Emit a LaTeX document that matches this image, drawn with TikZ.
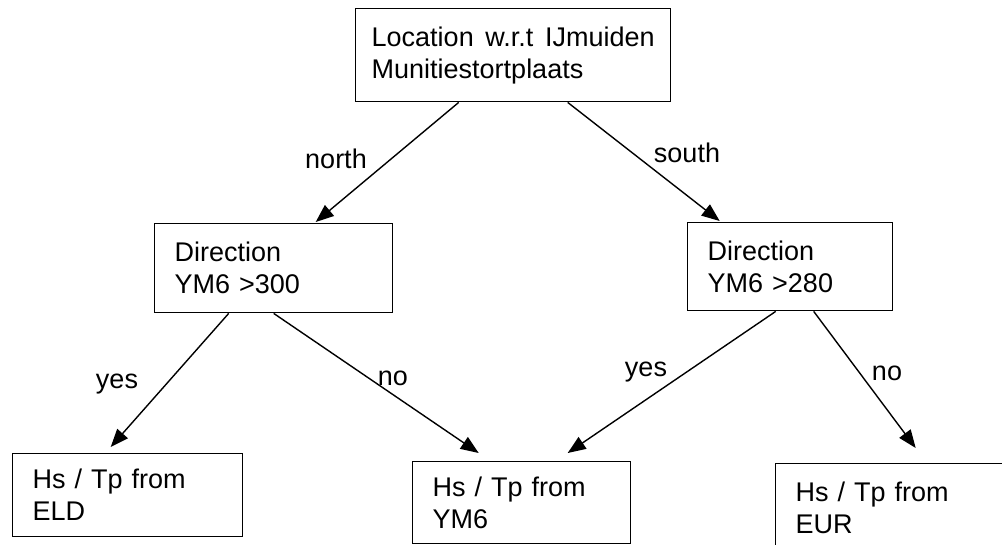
\documentclass[tikz,border=0pt]{standalone}
\usepackage{fontspec}
\setmainfont{Liberation Sans}
\usetikzlibrary{arrows.meta}

\begin{document}
\begin{tikzpicture}[x=1pt, y=-1pt,
  box/.style={draw, line width=1.4pt, inner xsep=20pt, inner ysep=0pt, align=left, anchor=north west},
  txt/.style={font=\fontsize{27}{32}\selectfont},
  arr/.style={line width=1.4pt, -{Triangle[length=18pt, width=14pt]}},
  lbl/.style={txt, anchor=base, inner sep=0pt}]
\useasboundingbox (0,0) rectangle (1002,544);
\node[box, txt, inner xsep=16pt, text width=283pt, minimum height=93pt] (top) at (355,8)
  {\hbox to \linewidth{Location\hfill w.r.t\hfill IJmuiden}\\Munitiestortplaats};
\node[box, txt, text width=198pt, minimum height=89pt] (dirN) at (154,223) {Direction\\YM6 >300};
\node[box, txt, text width=165pt, minimum height=88pt] (dirS) at (687,222) {Direction\\YM6 >280};
\node[box, txt, text width=190pt, minimum height=83pt] (eld) at (12,453) {Hs / Tp from\\ELD};
\node[box, txt, text width=178pt, minimum height=82pt] (ym6) at (412,461) {Hs / Tp from\\YM6};
\node[box, txt, text width=200pt, minimum height=88pt] (eur) at (775,463) {Hs / Tp from\\EUR};

\draw[arr] ([xshift=-54.5pt]top.south) -- ([xshift=42pt, yshift=1pt]dirN.north);
\draw[arr] ([xshift=54.5pt]top.south) -- ([xshift=-70.5pt, yshift=1pt]dirS.north);
\draw[arr] ([xshift=-45pt]dirN.south) -- ([xshift=-17pt, yshift=6pt]eld.north);
\draw[arr] (dirN.south) -- ([xshift=-43pt, yshift=8pt]ym6.north);
\draw[arr] ([xshift=-14.5pt]dirS.south) -- ([xshift=46pt, yshift=8pt]ym6.north);
\draw[arr] ([xshift=23.5pt]dirS.south) -- ([xshift=20pt, yshift=15pt]eur.north);

\node[lbl] (north) at (336,168) {north};
\node[lbl] (south) at (687,162) {south};
\node[lbl] (yesN) at (117,388) {yes};
\node[lbl] (noN) at (393,385) {no};
\node[lbl] (yesS) at (646,376) {yes};
\node[lbl] (noS) at (887,380) {no};
\end{tikzpicture}
\end{document}
